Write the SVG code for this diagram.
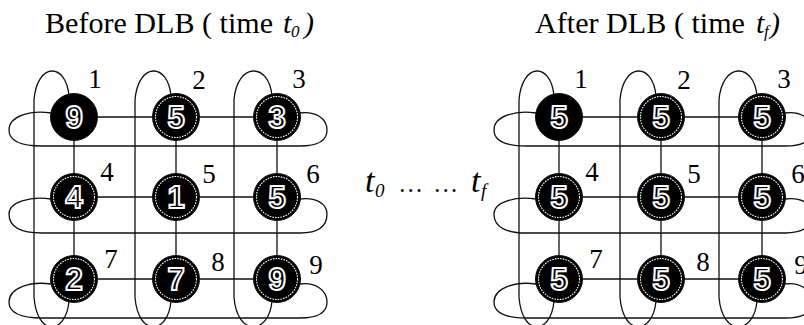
<svg xmlns="http://www.w3.org/2000/svg" width="804" height="325" viewBox="0 0 804 325">
<style>
.ln{fill:none;stroke:#111;stroke-width:1.3}
.nd{fill:#000;stroke:#111;stroke-width:1}
.rg{fill:none;stroke:#fff;stroke-width:1.1;stroke-dasharray:1.6 1.1}
.dg{font-family:"Liberation Sans",Arial,sans-serif;font-weight:bold;font-size:31px;fill:#000;stroke:#fff;stroke-width:2;text-anchor:middle}
.lb{font-family:"Liberation Serif","Times New Roman",serif;font-size:27px;fill:#000;text-anchor:middle}
.tt{font-family:"Liberation Serif","Times New Roman",serif;font-size:30px;fill:#000}
.it{font-family:"Liberation Serif","Times New Roman",serif;font-style:italic;fill:#000}
</style>
<defs>
<g id="conn">
<path class="ln" d="M 69,96 C 66,62 37,62 34,100 L 34,297 C 37,337 66,335 69,301"/>
<path class="ln" d="M 171,96 C 168,62 138,62 135,100 L 135,297 C 138,337 168,335 171,301"/>
<path class="ln" d="M 272,96 C 269,62 237,62 234,100 L 234,297 C 237,337 269,335 272,301"/>
<path class="ln" d="M 51,113 C 30,110 9,116 9,130 C 9,142 22,146 42,146 L 300,146 C 318,146 327,140 327,130 C 327,118 315,111 300,113"/>
<path class="ln" d="M 51,199 C 30,196 9,202 9,214 C 9,228 22,233 42,233 L 300,233 C 318,233 327,226 327,214 C 327,203 315,197 300,199"/>
<path class="ln" d="M 51,284 C 30,281 9,288 9,302 C 9,314 22,318 42,318 L 300,318 C 318,318 327,312 327,302 C 327,290 315,282 300,284"/>
<path class="ln" d="M 97,117 H 153 M 199,117 H 254 M 97,197 H 153 M 199,197 H 254 M 97,279 H 153 M 199,279 H 254"/>
<path class="ln" d="M 74,140 V 174 M 74,220 V 256 M 176,140 V 174 M 176,220 V 256 M 277,140 V 174 M 277,220 V 256"/>
</g>
</defs>

<text class="tt" x="45" y="33" textLength="228" lengthAdjust="spacingAndGlyphs">Before DLB ( time</text>
<text class="it" x="283" y="33" font-size="30">t</text>
<text class="it" x="291" y="37" font-size="17">0</text>
<text class="it" x="304" y="33" font-size="30">)</text>

<text class="tt" x="535" y="33" textLength="210" lengthAdjust="spacingAndGlyphs">After DLB ( time</text>
<text class="it" x="756" y="33" font-size="30">t</text>
<text class="it" x="764" y="37" font-size="17">f</text>
<text class="it" x="770" y="33" font-size="30">)</text>

<text class="it" x="365" y="192" font-size="34">t</text>
<text class="it" x="375" y="197" font-size="19">0</text>
<text class="it" x="400" y="192" font-size="25">…</text>
<text class="it" x="435" y="192" font-size="25">…</text>
<text class="it" x="471" y="192" font-size="34">t</text>
<text class="it" x="481" y="197" font-size="19">f</text>

<g id="connectors">
<use href="#conn"/>
<use href="#conn" transform="translate(485,0)"/>
</g>

<g id="before">
<g id="b1"><circle class="nd" cx="74" cy="117" r="23.5"/><text class="dg" x="74" y="128">9</text><text class="lb" x="95" y="88">1</text></g>
<g id="b2"><circle class="nd" cx="176" cy="117" r="23.5"/><circle class="rg" cx="176" cy="117" r="20.5"/><text class="dg" x="176" y="128">5</text><text class="lb" x="199" y="89">2</text></g>
<g id="b3"><circle class="nd" cx="277" cy="117" r="23.5"/><circle class="rg" cx="277" cy="117" r="20.5"/><text class="dg" x="277" y="128">3</text><text class="lb" x="299" y="88">3</text></g>
<g id="b4"><circle class="nd" cx="74" cy="197" r="23.5"/><circle class="rg" cx="74" cy="197" r="20.5"/><text class="dg" x="74" y="208">4</text><text class="lb" x="107" y="181">4</text></g>
<g id="b5"><circle class="nd" cx="176" cy="197" r="23.5"/><circle class="rg" cx="176" cy="197" r="20.5"/><text class="dg" x="176" y="208">1</text><text class="lb" x="209" y="183">5</text></g>
<g id="b6"><circle class="nd" cx="277" cy="197" r="23.5"/><circle class="rg" cx="277" cy="197" r="20.5"/><text class="dg" x="277" y="208">5</text><text class="lb" x="313" y="183">6</text></g>
<g id="b7"><circle class="nd" cx="74" cy="279" r="23.5"/><circle class="rg" cx="74" cy="279" r="20.5"/><text class="dg" x="74" y="290">2</text><text class="lb" x="111" y="268">7</text></g>
<g id="b8"><circle class="nd" cx="176" cy="279" r="23.5"/><circle class="rg" cx="176" cy="279" r="20.5"/><text class="dg" x="176" y="290">7</text><text class="lb" x="218" y="271">8</text></g>
<g id="b9"><circle class="nd" cx="277" cy="279" r="23.5"/><circle class="rg" cx="277" cy="279" r="20.5"/><text class="dg" x="277" y="290">9</text><text class="lb" x="316" y="274">9</text></g>
</g>

<g id="after" transform="translate(485,0)">
<g id="a1"><circle class="nd" cx="74" cy="117" r="23.5"/><text class="dg" x="74" y="128">5</text><text class="lb" x="96" y="88">1</text></g>
<g id="a2"><circle class="nd" cx="176" cy="117" r="23.5"/><circle class="rg" cx="176" cy="117" r="20.5"/><text class="dg" x="176" y="128">5</text><text class="lb" x="199" y="89">2</text></g>
<g id="a3"><circle class="nd" cx="277" cy="117" r="23.5"/><circle class="rg" cx="277" cy="117" r="20.5"/><text class="dg" x="277" y="128">5</text><text class="lb" x="299" y="88">3</text></g>
<g id="a4"><circle class="nd" cx="74" cy="197" r="23.5"/><circle class="rg" cx="74" cy="197" r="20.5"/><text class="dg" x="74" y="208">5</text><text class="lb" x="107" y="181">4</text></g>
<g id="a5"><circle class="nd" cx="176" cy="197" r="23.5"/><circle class="rg" cx="176" cy="197" r="20.5"/><text class="dg" x="176" y="208">5</text><text class="lb" x="209" y="183">5</text></g>
<g id="a6"><circle class="nd" cx="277" cy="197" r="23.5"/><circle class="rg" cx="277" cy="197" r="20.5"/><text class="dg" x="277" y="208">5</text><text class="lb" x="313" y="183">6</text></g>
<g id="a7"><circle class="nd" cx="74" cy="279" r="23.5"/><circle class="rg" cx="74" cy="279" r="20.5"/><text class="dg" x="74" y="290">5</text><text class="lb" x="111" y="268">7</text></g>
<g id="a8"><circle class="nd" cx="176" cy="279" r="23.5"/><circle class="rg" cx="176" cy="279" r="20.5"/><text class="dg" x="176" y="290">5</text><text class="lb" x="218" y="271">8</text></g>
<g id="a9"><circle class="nd" cx="277" cy="279" r="23.5"/><circle class="rg" cx="277" cy="279" r="20.5"/><text class="dg" x="277" y="290">5</text><text class="lb" x="316" y="274">9</text></g>
</g>
</svg>
